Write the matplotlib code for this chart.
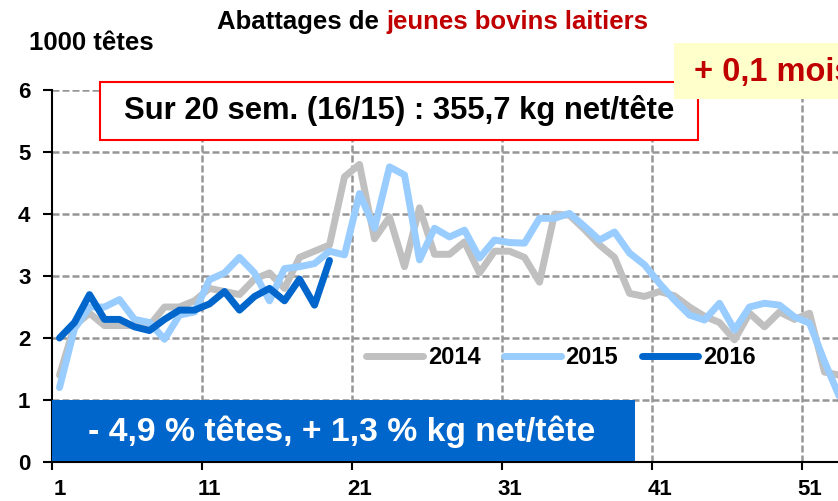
import matplotlib
matplotlib.use("Agg")
import matplotlib.pyplot as plt
from matplotlib.patches import Rectangle

# chart data (1000 tetes par semaine)
weeks = list(range(1, 54))
weeks_2016 = list(range(1, 20))

y2014 = [1.4, 2.2, 2.4, 2.2, 2.2, 2.2, 2.2, 2.5, 2.5, 2.6,
         2.8, 2.75, 2.7, 2.95, 3.05, 2.8, 3.3, 3.4, 3.5, 4.6,
         4.8, 3.6, 3.95, 3.15, 4.1, 3.35, 3.35, 3.55, 3.05, 3.4,
         3.4, 3.3, 2.9, 4.0, 3.98, 3.75, 3.5, 3.3, 2.72, 2.67,
         2.75, 2.68, 2.5, 2.35, 2.25, 1.97, 2.4, 2.18, 2.42, 2.3,
         2.4, 1.45, 1.4]
y2015 = [1.2, 2.15, 2.5, 2.5, 2.62, 2.3, 2.25, 1.98, 2.37, 2.42,
         2.94, 3.05, 3.3, 3.05, 2.6, 3.12, 3.15, 3.2, 3.4, 3.34,
         4.33, 3.77, 4.76, 4.63, 3.26, 3.77, 3.63, 3.74, 3.29, 3.58,
         3.54, 3.53, 3.93, 3.93, 4.01, 3.8, 3.58, 3.71, 3.37, 3.18,
         2.88, 2.61, 2.37, 2.29, 2.56, 2.13, 2.5, 2.56, 2.53, 2.34,
         2.24, 1.62, 1.05]
y2016 = [2.0, 2.25, 2.7, 2.3, 2.3, 2.18, 2.12, 2.3, 2.45, 2.45,
         2.55, 2.75, 2.45, 2.67, 2.8, 2.6, 2.95, 2.53, 3.25]

series_names = ["2014", "2015", "2016"]
series_colors = ["#C0C0C0", "#99CCFF", "#0066CC"]
x_labels = ["1", "11", "21", "31", "41", "51"]

W, H = 838, 501
plt.rcParams['font.family'] = ['Liberation Sans', 'DejaVu Sans']


def fx(x):
    return x / W


def fy(y):
    return 1 - y / H


fig = plt.figure(figsize=(W / 100, H / 100), dpi=100)
ax = fig.add_axes([fx(52), fy(462), (W - 52) / W, 372 / H])

lines = []
for xs, ys, c, name in zip([weeks, weeks, weeks_2016], [y2014, y2015, y2016],
                           series_colors, series_names):
    ln, = ax.plot(xs, ys, color=c, lw=5, label=name,
                  solid_joinstyle="round", solid_capstyle="round")
    lines.append(ln)

ax.set_xlim(0.5, 0.5 + (W - 52) / 15)
ax.set_ylim(0, 6)

# gridlines
for v in range(1, 7):
    ax.axhline(v, color="#969696", lw=1.8, ls=(0, (2.8, 1.2)), zorder=0)
for v in [10.5, 20.5, 30.5, 40.5, 50.5]:
    ax.axvline(v, color="#969696", lw=1.8, ls=(0, (2.8, 1.2)), zorder=0)

ax.spines["top"].set_visible(False)
ax.spines["right"].set_visible(False)
ax.spines["left"].set_linewidth(1.5)
ax.spines["bottom"].set_linewidth(1.5)

ax.set_yticks(range(0, 7))
ax.tick_params(axis="y", direction="out", length=6.5, width=1.5, pad=9,
               labelsize=16)
for t in ax.get_yticklabels():
    t.set_fontweight("bold")

ax.set_xticks([0.5, 10.5, 20.5, 30.5, 40.5, 50.5])
ax.set_xticklabels([])
ax.tick_params(axis="x", which="major", direction="out", length=5.5, width=1.5)
ax.set_xticks([int(s) for s in x_labels], minor=True)
ax.set_xticklabels(x_labels, minor=True, fontsize=16, fontweight="bold")
ax.tick_params(axis="x", which="minor", length=0, pad=12)

ax.legend(handles=lines, ncol=3, loc="center", bbox_to_anchor=(0.6476, 0.28),
          frameon=False, handlelength=2.4, handletextpad=0.2,
          columnspacing=1.0, borderpad=0,
          prop={"weight": "bold", "size": 17})

# boxes
fig.add_artist(Rectangle((fx(52), fy(461)), (635 - 52) / W, 61 / H,
                         transform=fig.transFigure, facecolor="#0066CC",
                         edgecolor="none", zorder=10))
fig.add_artist(Rectangle((fx(100), fy(140)), 598 / W, 58 / H,
                         transform=fig.transFigure, facecolor="white",
                         edgecolor="#FF0000", lw=1.5, zorder=10))
fig.add_artist(Rectangle((fx(674), fy(99)), (W - 674) / W + 0.01, 56 / H,
                         transform=fig.transFigure, facecolor="#FFFFCC",
                         edgecolor="none", zorder=11))

fig.text(fx(399), fy(111), "Sur 20 sem. (16/15) : 355,7 kg net/tête",
         ha="center", va="center", fontsize=22.3, fontweight="bold", zorder=12)
fig.text(fx(342), fy(432), "- 4,9 % têtes, + 1,3 % kg net/tête",
         ha="center", va="center", fontsize=24.3, fontweight="bold",
         color="white", zorder=12)
fig.text(fx(694), fy(73), "+ 0,1 mois", ha="left", va="center",
         fontsize=23.5, fontweight="bold", color="#C00000", zorder=12)

# title and unit
fig.text(fx(379), fy(22), "Abattages de", ha="right", va="center",
         fontsize=18.5, fontweight="bold")
fig.text(fx(386), fy(22), "jeunes bovins laitiers", ha="left", va="center",
         fontsize=18.5, fontweight="bold", color="#C00000")
fig.text(fx(29), fy(43), "1000 têtes", ha="left", va="center",
         fontsize=18.5, fontweight="bold")

fig.savefig("out.png", dpi=100)
